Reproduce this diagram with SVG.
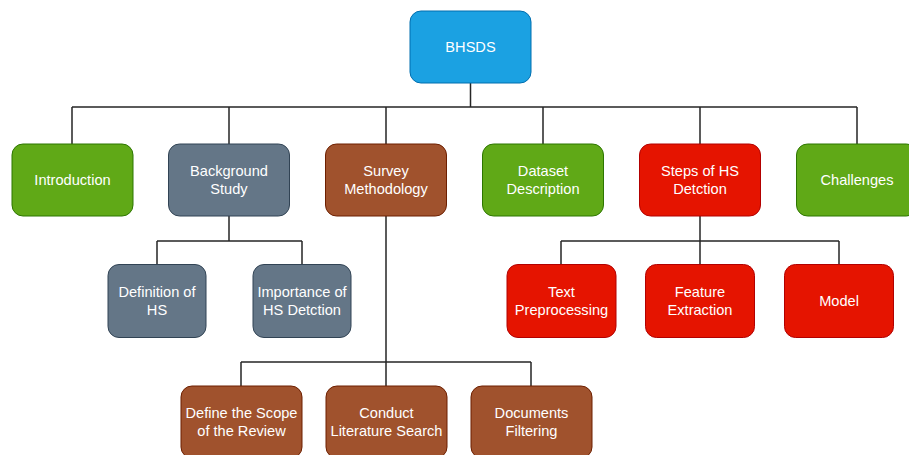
<svg xmlns="http://www.w3.org/2000/svg" width="909" height="455" viewBox="0 0 909 455">
  <style>
    .box { stroke-width: 1; }
    .blue { fill: #1ba1e2; stroke: #006eaf; }
    .green { fill: #60a917; stroke: #2d7600; }
    .gray { fill: #647687; stroke: #314354; }
    .brown { fill: #a0522d; stroke: #6d1f00; }
    .red { fill: #e51400; stroke: #b20000; }
    text { font-family: "Liberation Sans", Arial, sans-serif; font-size: 14.6px; fill: #ffffff; text-anchor: middle; dominant-baseline: central; }
    .edge { fill: none; stroke: #262626; stroke-width: 1.5; }
  </style>
  <rect width="909" height="455" fill="#ffffff"/>

  <g id="connectors">
    <!-- root to first level -->
    <path class="edge" d="M470.5 83 V107 M72 107 H857 M72 107 V144 M229 107 V144 M386 107 V144 M543 107 V144 M700 107 V144 M857 107 V144"/>
    <!-- background study children -->
    <path class="edge" d="M229 216 V241 M157 241 H302 M157 241 V264 M302 241 V264"/>
    <!-- steps of HS detection children -->
    <path class="edge" d="M700 216 V241 M561 241 H839 M561 241 V264 M700 241 V264 M839 241 V264"/>
    <!-- survey methodology children -->
    <path class="edge" d="M386 216 V386 M241 362 H531 M241 362 V386 M531 362 V386"/>
  </g>

  <g id="bhsds">
    <rect class="box blue" x="410" y="11" width="121" height="72" rx="11"/>
    <text x="470.5" y="47">BHSDS</text>
  </g>

  <g id="introduction">
    <rect class="box green" x="12" y="144" width="121" height="72" rx="11"/>
    <text x="72.5" y="180">Introduction</text>
  </g>
  <g id="background-study">
    <rect class="box gray" x="168.5" y="144" width="121" height="72" rx="11"/>
    <text x="229" y="171">Background</text>
    <text x="229" y="189">Study</text>
  </g>
  <g id="survey-methodology">
    <rect class="box brown" x="325.5" y="144" width="121" height="72" rx="11"/>
    <text x="386" y="171">Survey</text>
    <text x="386" y="189">Methodology</text>
  </g>
  <g id="dataset-description">
    <rect class="box green" x="482.5" y="144" width="121" height="72" rx="11"/>
    <text x="543" y="171">Dataset</text>
    <text x="543" y="189">Description</text>
  </g>
  <g id="steps-hs-detection">
    <rect class="box red" x="639.5" y="144" width="121" height="72" rx="11"/>
    <text x="700" y="171">Steps of HS</text>
    <text x="700" y="189">Detction</text>
  </g>
  <g id="challenges">
    <rect class="box green" x="796.5" y="144" width="121" height="72" rx="11"/>
    <text x="857" y="180">Challenges</text>
  </g>

  <g id="definition-hs">
    <rect class="box gray" x="108" y="264.5" width="98" height="73" rx="11"/>
    <text x="157" y="292">Definition of</text>
    <text x="157" y="310">HS</text>
  </g>
  <g id="importance-hs-detection">
    <rect class="box gray" x="253" y="264.5" width="98" height="73" rx="11"/>
    <text x="302" y="292">Importance of</text>
    <text x="302" y="310">HS Detction</text>
  </g>

  <g id="text-preprocessing">
    <rect class="box red" x="507" y="264.5" width="109" height="73" rx="11"/>
    <text x="561.5" y="292">Text</text>
    <text x="561.5" y="310">Preprocessing</text>
  </g>
  <g id="feature-extraction">
    <rect class="box red" x="645.5" y="264.5" width="109" height="73" rx="11"/>
    <text x="700" y="292">Feature</text>
    <text x="700" y="310">Extraction</text>
  </g>
  <g id="model">
    <rect class="box red" x="784.5" y="264.5" width="109" height="73" rx="11"/>
    <text x="839" y="301">Model</text>
  </g>

  <g id="define-scope">
    <rect class="box brown" x="181" y="386" width="121" height="72" rx="11"/>
    <text x="241.5" y="413">Define the Scope</text>
    <text x="241.5" y="431">of the Review</text>
  </g>
  <g id="conduct-literature-search">
    <rect class="box brown" x="326" y="386" width="121" height="72" rx="11"/>
    <text x="386.5" y="413">Conduct</text>
    <text x="386.5" y="431">Literature Search</text>
  </g>
  <g id="documents-filtering">
    <rect class="box brown" x="471" y="386" width="121" height="72" rx="11"/>
    <text x="531.5" y="413">Documents</text>
    <text x="531.5" y="431">Filtering</text>
  </g>
</svg>
